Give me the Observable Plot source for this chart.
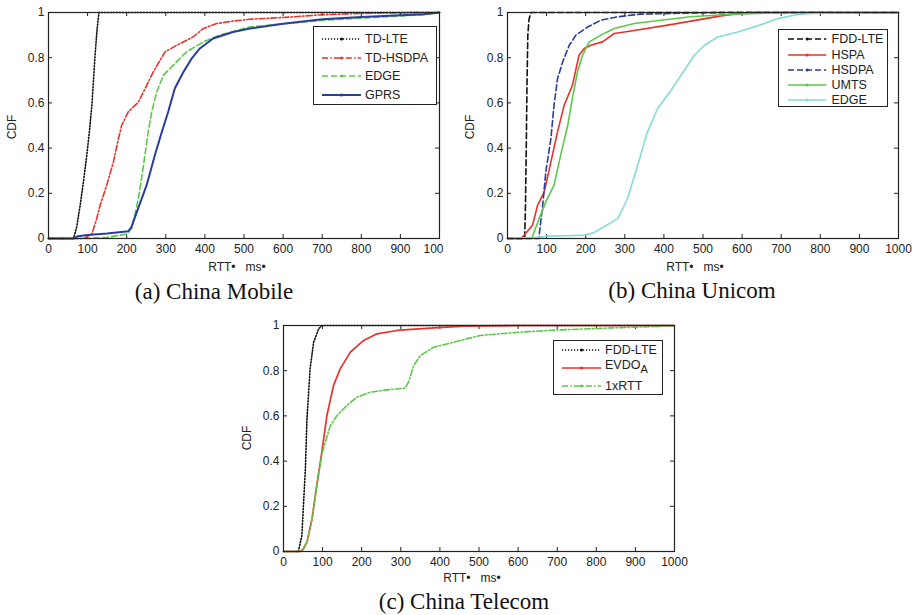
<!DOCTYPE html>
<html><head><meta charset="utf-8">
<script src="https://cdn.jsdelivr.net/npm/d3@7"></script>
<script src="https://cdn.jsdelivr.net/npm/@observablehq/plot@0.6"></script>
<style>
body{margin:0;background:#fff;}
#root{position:relative;width:915px;height:615px;overflow:hidden;font-family:"Liberation Sans",Arial,sans-serif;color:#222;}
.panel{position:absolute;}
.lbl{position:absolute;font-size:12px;white-space:pre;line-height:1;}
.cap{position:absolute;font-family:"Liberation Serif","Times New Roman",serif;font-size:23px;white-space:pre;line-height:1;transform:translate(-50%,-50%);color:#111;}
.legend{position:absolute;border:1.3px solid #222;background:#fff;box-sizing:border-box;}
.legend .txt{position:absolute;font-size:12.5px;line-height:1;white-space:pre;transform:translateY(-50%);}
.legend svg{position:absolute;overflow:visible;}
</style></head><body><div id="root"></div>
<script>
// ---- tick values ----
const xTicks = [0,100,200,300,400,500,600,700,800,900,1000];
const yTicks = [0,0.2,0.4,0.6,0.8,1];

// ---- (a) China Mobile : [RTT ms, CDF] ----
const mobileTDLTE = [[0,0],[64,0],[72,0.05],[81,0.147],[90,0.26],[98,0.369],[105,0.48],[111,0.59],[119,0.81],[124,0.92],[129,1],[1000,1]];
const mobileTDHSDPA = [[0,0],[90,0],[111,0.02],[122,0.08],[132,0.147],[149,0.236],[166,0.339],[179,0.442],[187,0.5],[204,0.56],[230,0.604],[243,0.649],[268,0.737],[298,0.826],[328,0.855],[370,0.892],[396,0.929],[430,0.951],[472,0.962],[515,0.97],[600,0.978],[700,0.99],[800,0.996],[950,1],[1000,1]];
const mobileEDGE = [[0,0],[100,0],[150,0.005],[200,0.02],[213,0.044],[230,0.177],[243,0.324],[255,0.472],[264,0.56],[277,0.649],[294,0.723],[319,0.767],[353,0.826],[396,0.87],[438,0.9],[515,0.936],[600,0.95],[700,0.965],[800,0.975],[900,0.985],[960,0.99],[1000,1]];
const mobileGPRS = [[0,0],[65,0],[75,0.01],[100,0.015],[150,0.022],[204,0.032],[212,0.05],[226,0.118],[251,0.236],[272,0.368],[290,0.472],[306,0.56],[323,0.664],[345,0.737],[366,0.796],[387,0.841],[421,0.885],[472,0.914],[515,0.929],[600,0.95],[700,0.97],[800,0.98],[900,0.988],[960,0.992],[1000,1]];

// ---- (b) China Unicom ----
const unicomFDDLTE = [[0,0],[44,0],[46,0.15],[48,0.4],[50,0.7],[52,0.9],[55,0.97],[60,1],[1000,1]];
const unicomHSPA = [[0,0],[34,0],[45,0.02],[64,0.059],[77,0.147],[94,0.206],[111,0.339],[128,0.472],[145,0.59],[166,0.678],[183,0.811],[196,0.841],[213,0.855],[243,0.87],[273,0.907],[324,0.92],[410,0.944],[469,0.962],[546,0.985],[614,1],[1000,1]];
const unicomHSDPA = [[0,0],[80,0],[90,0.147],[98,0.295],[111,0.442],[119,0.59],[128,0.708],[141,0.781],[158,0.855],[175,0.9],[205,0.936],[239,0.966],[282,0.981],[341,0.993],[450,0.997],[560,1],[1000,1]];
const unicomUMTS = [[0,0],[60,0],[64,0.01],[81,0.088],[98,0.162],[119,0.236],[136,0.369],[154,0.5],[166,0.62],[179,0.737],[192,0.811],[209,0.87],[239,0.9],[273,0.929],[324,0.951],[392,0.966],[469,0.981],[550,0.99],[700,1],[1000,1]];
const unicomEDGE = [[0,0],[80,0.005],[100,0.01],[200,0.015],[220,0.025],[239,0.044],[282,0.088],[307,0.177],[333,0.324],[358,0.472],[384,0.575],[418,0.655],[444,0.723],[478,0.811],[504,0.855],[538,0.892],[589,0.914],[640,0.941],[691,0.973],[742,0.991],[802,0.998],[880,1],[1000,1]];

// ---- (c) China Telecom ----
const telecomFDDLTE = [[0,0],[38,0],[47,0.071],[51,0.204],[56,0.366],[60,0.587],[68,0.808],[77,0.926],[90,0.985],[98,1],[1000,1]];
const telecomEVDO = [[0,0],[43,0],[50,0.01],[60,0.041],[73,0.145],[85,0.292],[98,0.44],[111,0.602],[128,0.735],[145,0.808],[171,0.882],[205,0.934],[239,0.963],[290,0.978],[375,0.988],[461,0.997],[600,1],[1000,1]];
const telecom1xRTT = [[0,0],[43,0],[50,0.01],[60,0.041],[73,0.145],[85,0.285],[98,0.43],[107,0.484],[120,0.558],[137,0.602],[162,0.646],[188,0.683],[222,0.705],[273,0.717],[311,0.723],[320,0.75],[333,0.823],[350,0.867],[384,0.904],[435,0.926],[503,0.956],[600,0.97],[700,0.98],[850,0.99],[950,0.995],[1000,1]];

// ---- styles ----
const C = {black:"#111", red:"#e8322b", green:"#5cc84a", blue:"#2b3d9c", cyan:"#84dbd6"};
const DOT = "1.2,1.8", DASH = "6,3", DASHDOT = "6,2.2,1.5,2.2";

const root = document.getElementById("root");
const IW = 391, IH = 226;

function panel(series, left, top, width, truncLast) {
  const mL = 48, mT = 12, mB = 37, mR = width - mL - IW;
  const tk = 4;
  const mainTicks = truncLast ? xTicks.slice(0, -1) : xTicks;
  const axes = [Plot.axisX({ticks: mainTicks, tickSize: 0, tickPadding: 6, tickFormat: d => String(d), label: null})];
  if (truncLast) {
    // the reference shows the last label cut to "100"
    axes.push(Plot.axisX({ticks: xTicks.slice(-1), tickSize: 0, tickPadding: 6, tickFormat: () => "100", dx: -6, label: null}));
  }
  const svg = Plot.plot({
    width, height: mT + IH + mB,
    marginLeft: mL, marginRight: mR, marginTop: mT, marginBottom: mB,
    x: {domain: [0, 1000]},
    y: {domain: [0, 1]},
    style: {fontSize: "12px", fontFamily: "Liberation Sans, Arial, sans-serif", color: "#222", background: "transparent"},
    marks: [
      Plot.tickX(xTicks, {x: d => d, insetTop: IH - tk, stroke: "#222"}),
      Plot.tickX(xTicks, {x: d => d, insetBottom: IH - tk, stroke: "#222"}),
      Plot.tickY(yTicks, {y: d => d, insetRight: IW - tk, stroke: "#222"}),
      Plot.tickY(yTicks, {y: d => d, insetLeft: IW - tk, stroke: "#222"}),
      ...axes,
      Plot.axisY({ticks: yTicks, tickSize: 0, tickPadding: 4, tickFormat: d => String(d), label: null}),
      ...series.map(s => Plot.line(s.data, {x: d => d[0], y: d => d[1], stroke: s.color, strokeWidth: s.w || 1.6, strokeDasharray: s.dash || null})),
      Plot.frame({stroke: "#222", strokeWidth: 1.2})
    ]
  });
  svg.classList.add("panel");
  svg.style.left = left + "px";
  svg.style.top = top + "px";
  svg.style.maxWidth = "none";
  root.appendChild(svg);
}

function label(text, x, y, rotate) {
  const d = document.createElement("div");
  d.className = "lbl";
  d.textContent = text;
  d.style.left = x + "px"; d.style.top = y + "px";
  d.style.transform = "translate(-50%,-50%)" + (rotate ? " rotate(-90deg)" : "");
  root.appendChild(d);
}
function caption(text, x, y) {
  const d = document.createElement("div");
  d.className = "cap"; d.textContent = text;
  d.style.left = x + "px"; d.style.top = y + "px";
  root.appendChild(d);
}
function legend(items, left, top, w, h, rows, lx0, lx1, tx) {
  const box = document.createElement("div");
  box.className = "legend";
  Object.assign(box.style, {left: left + "px", top: top + "px", width: w + "px", height: h + "px"});
  items.forEach((it, i) => {
    const y = rows[i];
    const ns = "http://www.w3.org/2000/svg";
    const s = document.createElementNS(ns, "svg");
    s.setAttribute("width", lx1 - lx0); s.setAttribute("height", 6);
    s.style.left = lx0 + "px"; s.style.top = (y - 3) + "px";
    const ln = document.createElementNS(ns, "line");
    ln.setAttribute("x1", 0); ln.setAttribute("x2", lx1 - lx0); ln.setAttribute("y1", 3); ln.setAttribute("y2", 3);
    ln.setAttribute("stroke", it.color); ln.setAttribute("stroke-width", it.w || 1.6);
    if (it.dash) ln.setAttribute("stroke-dasharray", it.dash);
    s.appendChild(ln);
    const c = document.createElementNS(ns, "circle");
    c.setAttribute("cx", (lx1 - lx0) / 2); c.setAttribute("cy", 3); c.setAttribute("r", 1.6); c.setAttribute("fill", it.color);
    s.appendChild(c);
    box.appendChild(s);
    const t = document.createElement("div");
    t.className = "txt";
    t.innerHTML = it.html || it.name;
    t.style.left = tx + "px"; t.style.top = (y + (it.dy || 0)) + "px";
    box.appendChild(t);
  });
  root.appendChild(box);
}

// (a)
const seriesA = [
  {name: "TD-LTE", data: mobileTDLTE, color: C.black, dash: DOT},
  {name: "TD-HSDPA", data: mobileTDHSDPA, color: C.red, dash: DASHDOT},
  {name: "EDGE", data: mobileEDGE, color: C.green, dash: DASH},
  {name: "GPRS", data: mobileGPRS, color: C.blue, w: 2}
];
panel(seriesA, 0, 0, 456, true);
legend(seriesA, 313, 26, 124, 79, [12, 30.5, 49, 67.5], 8, 47, 51);
label("CDF", 12, 127, true);
label("RTT\u2022   ms\u2022", 237, 267);
caption("(a) China Mobile", 214, 291);

// (b)
const seriesB = [
  {name: "FDD-LTE", data: unicomFDDLTE, color: C.black, dash: DASH},
  {name: "HSPA", data: unicomHSPA, color: C.red},
  {name: "HSDPA", data: unicomHSDPA, color: C.blue, dash: DASH},
  {name: "UMTS", data: unicomUMTS, color: C.green},
  {name: "EDGE", data: unicomEDGE, color: C.cyan}
];
panel(seriesB, 459, 0, 456);
legend(seriesB, 778, 29, 110, 78, [9.3, 24.7, 40, 55.3, 70.3], 8.7, 47, 52.5);
label("CDF", 470, 127, true);
label("RTT\u2022   ms\u2022", 695, 267);
caption("(b) China Unicom", 692, 290);

// (c)
const seriesC = [
  {name: "FDD-LTE", data: telecomFDDLTE, color: C.black, dash: DOT},
  {name: "EVDO_A", html: "EVDO<sub style='font-size:11px;vertical-align:-4px'>A</sub>", data: telecomEVDO, color: C.red, w: 1.7, dy: -1},
  {name: "1xRTT", data: telecom1xRTT, color: C.green, dash: DASHDOT}
];
panel(seriesC, 235, 313, 456);
legend(seriesC, 553, 340, 110, 55, [9.3, 26.7, 45], 8, 47, 51);
label("CDF", 247, 438, true);
label("RTT\u2022   ms\u2022", 472, 578);
caption("(c) China Telecom", 464, 601);
</script></body></html>
